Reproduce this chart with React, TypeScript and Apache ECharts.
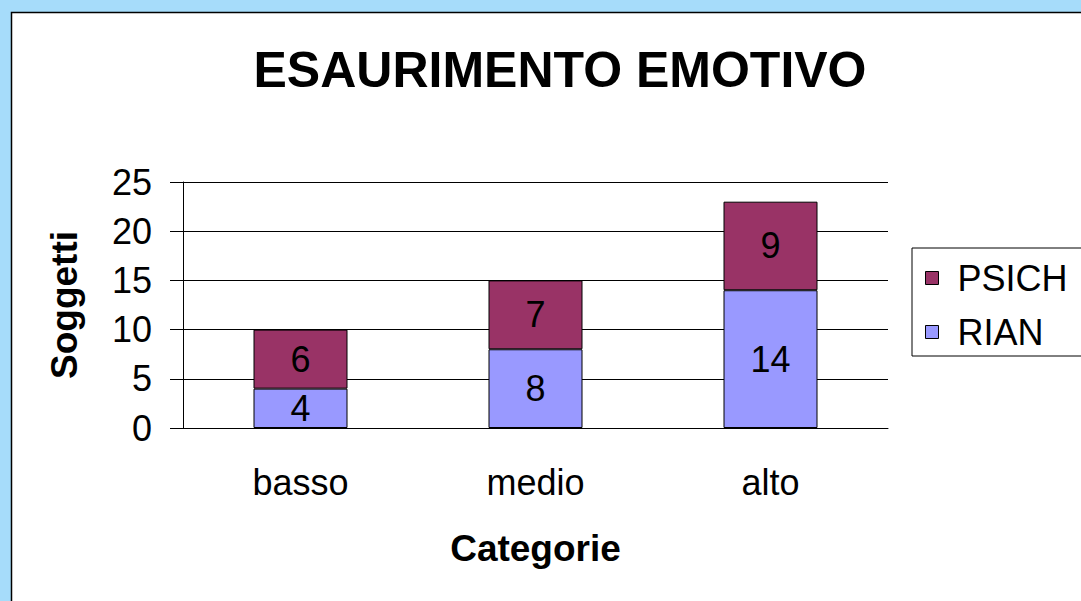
import React, { useEffect, useRef } from "react";
import * as echarts from "echarts";

const categories = ["basso", "medio", "alto"];
const rian = [4, 8, 14];
const psich = [6, 7, 9];
const FONT = "Liberation Sans, Arial, sans-serif";

export default function App() {
  const ref = useRef<HTMLDivElement>(null);
  useEffect(() => {
    const chart = echarts.init(ref.current!, undefined, { renderer: "svg" });
    chart.setOption({
      animation: false,
      backgroundColor: "#a6dcfa",
      textStyle: { fontFamily: FONT },
      graphic: [
        {
          type: "rect",
          shape: { x: 11.5, y: 12.5, width: 1100, height: 620 },
          style: { fill: "#ffffff", stroke: "#000000", lineWidth: 1.5 },
          z: -10,
        },
      ],
      title: {
        text: "ESAURIMENTO EMOTIVO",
        left: 555,
        textAlign: "center",
        top: 40,
        textStyle: { fontSize: 50, fontWeight: "bold", color: "#000", fontFamily: FONT },
      },
      legend: {
        data: ["PSICH", "RIAN"],
        orient: "vertical",
        left: 912,
        top: 248,
        padding: [12, 40, 6, 13],
        itemGap: 18,
        itemWidth: 13,
        itemHeight: 13,
        borderColor: "#000",
        borderWidth: 1,
        backgroundColor: "#fff",
        icon: "rect",
        itemStyle: { borderColor: "#000", borderWidth: 1 },
        textStyle: { fontSize: 36, color: "#000", lineHeight: 36, padding: [0, 0, 0, 14], fontFamily: FONT },
      },
      grid: { left: 183, right: 193, top: 182, bottom: 173 },
      xAxis: {
        type: "category",
        data: categories,
        name: "Categorie",
        nameLocation: "middle",
        nameGap: 102,
        nameTextStyle: { fontSize: 37, fontWeight: "bold", color: "#000", fontFamily: FONT },
        axisLine: { lineStyle: { color: "#000", width: 1 } },
        axisTick: { length: 12, lineStyle: { color: "#000" } },
        axisLabel: { fontSize: 36, color: "#000", margin: 36, fontFamily: FONT },
      },
      yAxis: {
        type: "value",
        min: 0,
        max: 25,
        interval: 5,
        name: "Soggetti",
        nameLocation: "middle",
        nameGap: 100,
        nameTextStyle: { fontSize: 37, fontWeight: "bold", color: "#000", fontFamily: FONT },
        axisLine: { show: true, lineStyle: { color: "#000", width: 1 } },
        axisTick: { show: true, length: 13, lineStyle: { color: "#000" } },
        axisLabel: { fontSize: 36, color: "#000", margin: 31, fontFamily: FONT },
        splitLine: { lineStyle: { color: "#000", width: 1 } },
      },
      series: [
        {
          name: "RIAN",
          type: "bar",
          stack: "s",
          data: rian,
          barWidth: "40%",
          itemStyle: { color: "#9999ff", borderColor: "#000", borderWidth: 1 },
          label: { show: true, position: "inside", fontSize: 36, color: "#000", fontFamily: FONT },
        },
        {
          name: "PSICH",
          type: "bar",
          stack: "s",
          data: psich,
          barWidth: "40%",
          itemStyle: { color: "#993366", borderColor: "#000", borderWidth: 1 },
          label: { show: true, position: "inside", fontSize: 36, color: "#000", fontFamily: FONT },
        },
      ],
    });
    return () => chart.dispose();
  }, []);
  return (
    <div
      ref={ref}
      style={{ position: "fixed", left: 0, top: 0, width: 1081, height: 601 }}
    />
  );
}
